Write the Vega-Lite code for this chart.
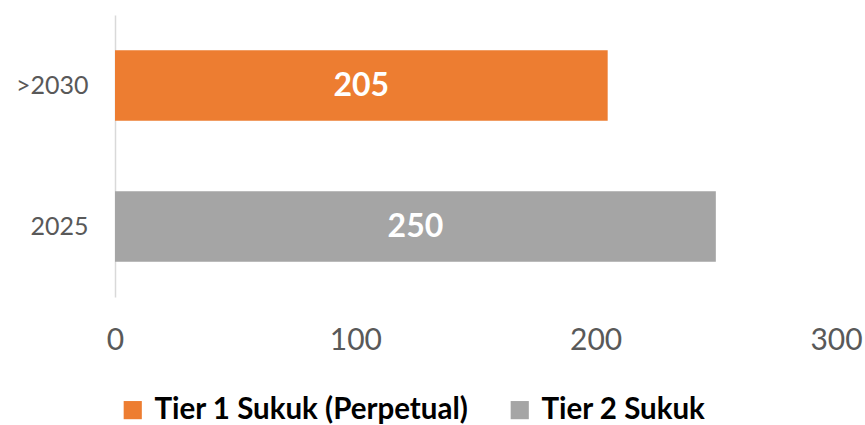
{
  "$schema": "https://vega.github.io/schema/vega-lite/v6.json",
  "width": 721,
  "height": 282,
  "autosize": {"type": "none"},
  "padding": {"left": 115, "top": 15, "right": 29, "bottom": 128},
  "background": "white",
  "data": {
    "values": [
      {"year": ">2030", "series": "Tier 1 Sukuk (Perpetual)", "value": 205},
      {"year": "2025", "series": "Tier 2 Sukuk", "value": 250}
    ]
  },
  "encoding": {
    "y": {
      "field": "year",
      "type": "nominal",
      "sort": [">2030", "2025"],
      "scale": {"paddingInner": 0.5, "paddingOuter": 0.25},
      "axis": {
        "title": null,
        "ticks": false,
        "domainColor": "#D9D9D9",
        "domainWidth": 1.5,
        "labelFont": "Lato",
        "labelFontSize": 25,
        "labelColor": "#595959",
        "labelPadding": 27
      }
    }
  },
  "layer": [
    {
      "mark": {"type": "bar"},
      "encoding": {
        "x": {
          "field": "value",
          "type": "quantitative",
          "scale": {"domain": [0, 300], "nice": false},
          "axis": {
            "title": null,
            "values": [0, 100, 200, 300],
            "domain": false,
            "ticks": false,
            "grid": false,
            "labelFont": "Lato",
            "labelFontSize": 30,
            "labelColor": "#595959",
            "labelPadding": 28,
            "labelFlush": false
          }
        },
        "color": {
          "field": "series",
          "type": "nominal",
          "scale": {
            "domain": ["Tier 1 Sukuk (Perpetual)", "Tier 2 Sukuk"],
            "range": ["#ED7D31", "#A5A5A5"]
          },
          "legend": {
            "title": null,
            "orient": "none",
            "legendX": 3,
            "legendY": 380,
            "direction": "horizontal",
            "symbolType": "square",
            "symbolSize": 330,
            "symbolStrokeWidth": 0,
            "labelFont": "Lato",
            "labelFontWeight": "bold",
            "labelFontSize": 29.5,
            "labelLimit": 0,
            "labelColor": "#000000",
            "labelOffset": 7,
            "columnPadding": 36
          }
        }
      }
    },
    {
      "mark": {"type": "text", "font": "Lato", "fontWeight": "bold", "fontSize": 32, "color": "white"},
      "encoding": {
        "x": {
          "field": "value",
          "type": "quantitative",
          "scale": {"domain": [0, 600], "nice": false},
          "axis": null
        },
        "text": {"field": "value", "type": "quantitative"}
      }
    }
  ],
  "resolve": {"scale": {"x": "independent"}},
  "config": {"view": {"stroke": null}}
}
